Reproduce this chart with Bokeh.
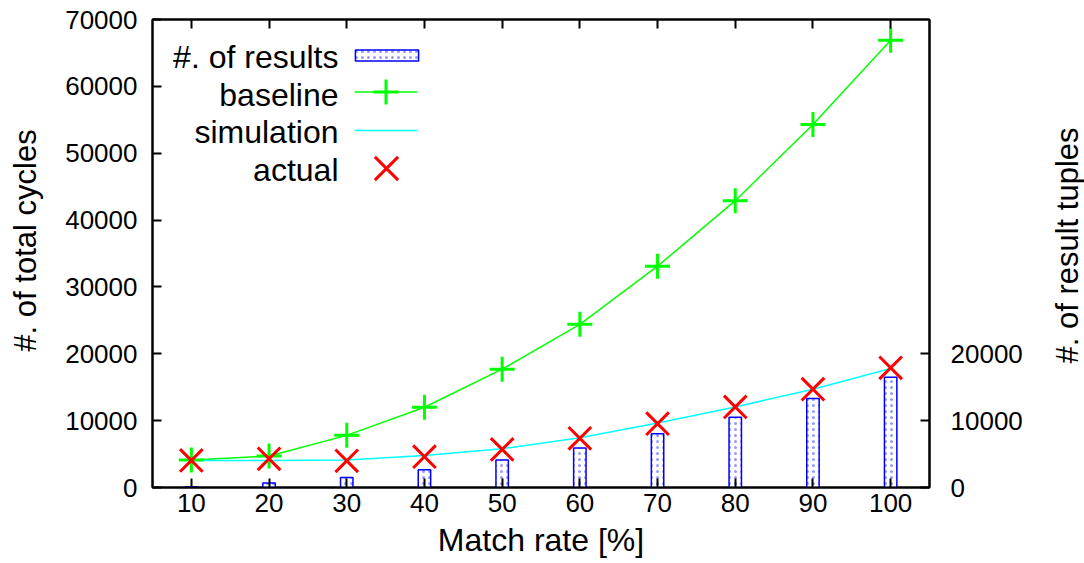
from math import pi
from bokeh.plotting import figure
from bokeh.layouts import row
from bokeh.models import Range1d, LinearAxis, FixedTicker, Legend, LegendItem, Label
from bokeh.embed import file_html
from bokeh.resources import INLINE

# ---- data ----
match_rate = [10, 20, 30, 40, 50, 60, 70, 80, 90, 100]
num_results = [120, 660, 1500, 2650, 4100, 5900, 8050, 10500, 13300, 16500]
baseline = [4100, 4700, 7800, 12000, 17700, 24400, 33100, 42900, 54300, 66900]
simulation = [4050, 4050, 4100, 4800, 5800, 7450, 9650, 12050, 14700, 17800]
actual = [4050, 4300, 4000, 4600, 5700, 7350, 9550, 12050, 14700, 17900]

x_ticks = [10, 20, 30, 40, 50, 60, 70, 80, 90, 100]
y_ticks = [0, 10000, 20000, 30000, 40000, 50000, 60000, 70000]
y2_ticks = [0, 10000, 20000]

legend_labels = ["#. of results", "baseline", "simulation", "actual"]
x_label = "Match rate [%]"
y_label = "#. of total cycles"
y2_label = "#. of result tuples"

FONT = "Liberation Sans"
BLUE = "#0000ff"
GREEN = "#00ff00"
CYAN = "#00ffff"
RED = "#ff0000"

H = 563
LEFT_W = 48
RIGHT_W = 45
MAIN_W = 1084 - LEFT_W - RIGHT_W
FRAME_BOTTOM = 487  # page y of the plot frame's bottom edge

p = figure(width=MAIN_W, height=H, output_backend="svg", toolbar_location=None,
           x_range=Range1d(5, 105), y_range=Range1d(0, 70000),
           x_axis_type=None, y_axis_type=None,
           min_border_left=152 - LEFT_W, min_border_right=MAIN_W - (929 - LEFT_W),
           min_border_top=19, min_border_bottom=H - FRAME_BOTTOM)
p.extra_y_ranges = {"y2": Range1d(0, 70000)}
p.outline_line_color = "black"
p.outline_line_width = 2
p.background_fill_color = "white"
p.border_fill_color = "white"


def style_axis(ax, standoff, size="26px"):
    ax.major_tick_in = 9
    ax.major_tick_out = 0
    ax.minor_tick_line_color = None
    ax.axis_line_width = 2
    ax.axis_line_color = "black"
    ax.major_tick_line_width = 2
    ax.major_tick_line_color = "black"
    ax.major_label_text_font = FONT
    ax.major_label_text_font_size = size
    ax.major_label_text_color = "black"
    ax.major_label_standoff = standoff
    ax.axis_label_text_font = FONT
    ax.axis_label_text_font_size = "32px"
    ax.axis_label_text_font_style = "normal"
    ax.axis_label_text_color = "black"


xb = LinearAxis(ticker=FixedTicker(ticks=x_ticks), axis_label=x_label)
style_axis(xb, 6)
xb.axis_label_standoff = 7
p.add_layout(xb, "below")

xt = LinearAxis(ticker=FixedTicker(ticks=x_ticks))
style_axis(xt, 0, "0px")
xt.major_label_overrides = {t: "" for t in x_ticks}
p.add_layout(xt, "above")

yl = LinearAxis(ticker=FixedTicker(ticks=y_ticks))
style_axis(yl, 15)
p.add_layout(yl, "left")

yr = LinearAxis(y_range_name="y2", ticker=FixedTicker(ticks=y2_ticks))
style_axis(yr, 21)
p.add_layout(yr, "right")

# ---- glyphs ----
bars = p.vbar(x=match_rate, top=num_results, bottom=0, width=1.6, y_range_name="y2",
              fill_color="white", line_color=BLUE, line_width=1.5,
              hatch_pattern="dot", hatch_color=BLUE, hatch_scale=6, hatch_weight=1,
              hatch_alpha=0.4)
bl_line = p.line(match_rate, baseline, line_color=GREEN, line_width=1.5)
sim_line = p.line(match_rate, simulation, line_color=CYAN, line_width=1.5)
bl_pts = p.scatter(match_rate, baseline, marker="cross", size=25,
                   line_color=GREEN, line_width=3)
act_pts = p.scatter(match_rate, actual, marker="x", size=32,
                    line_color=RED, line_width=3)


# ---- legend (glyph samples right of right-aligned texts) ----
def add_legend(renderers, x, y, gw, gh):
    lg = Legend(items=[LegendItem(label=" ", renderers=renderers)],
                location=(x, y), glyph_width=gw, glyph_height=gh,
                padding=0, margin=0, spacing=0, label_standoff=0,
                label_width=0, label_height=0, label_text_font_size="1px",
                border_line_color=None, background_fill_alpha=0)
    p.add_layout(lg)


add_legend([bars], 195, 425, 79, 14)
add_legend([bl_line, bl_pts], 202, 364, 63, 63)
add_legend([sim_line], 202, 352, 63, 10)
add_legend([act_pts], 193, 278, 82, 82)

legend_y = [431, 393, 355.5, 318]
for txt, yy in zip(legend_labels, legend_y):
    p.add_layout(Label(x=186, y=yy, x_units="screen", y_units="screen", text=txt,
                       text_align="right", text_baseline="alphabetic",
                       text_font=FONT, text_font_size="32px", text_color="black"))


# ---- side strips holding the vertical axis titles ----
# (their frames are aligned with the main frame: page y 19..487)
def side_strip(width, text, x, y):
    s = figure(width=width, height=H, output_backend="svg", toolbar_location=None,
               x_range=Range1d(0, width), y_range=Range1d(0, H),
               x_axis_type=None, y_axis_type=None,
               min_border_left=0, min_border_right=0,
               min_border_top=19, min_border_bottom=H - FRAME_BOTTOM)
    s.outline_line_color = None
    s.background_fill_color = "white"
    s.border_fill_color = "white"
    s.add_layout(Label(x=x, y=y, x_units="screen", y_units="screen", text=text,
                       angle=pi / 2, text_align="center", text_baseline="middle",
                       text_font=FONT, text_font_size="31px", text_color="black"))
    return s


left_strip = side_strip(LEFT_W, y_label, 25, FRAME_BOTTOM - 240)
right_strip = side_strip(RIGHT_W, y2_label, 1067 - (1084 - RIGHT_W), FRAME_BOTTOM - 245)

layout = row(left_strip, p, right_strip)
open("out.html", "w").write(file_html(layout, INLINE))
